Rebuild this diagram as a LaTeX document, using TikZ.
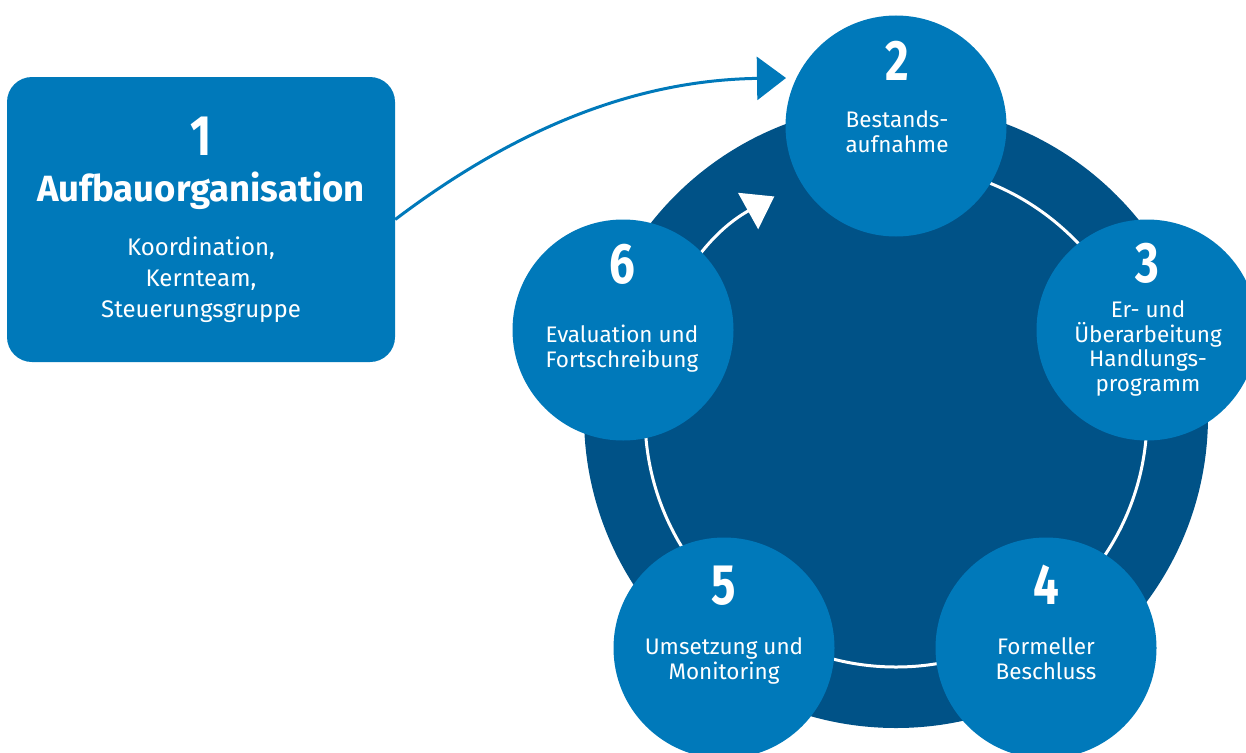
\documentclass[tikz,border=0pt]{standalone}
\usepackage{fontspec}
\setmainfont{Fira Sans}
\newfontfamily\digitfont{Fira Sans}[FakeStretch=0.8]
\usetikzlibrary{arrows.meta}
\definecolor{midblue}{RGB}{0,121,186}
\definecolor{darkblue}{RGB}{0,82,135}
\tikzset{
  stagecircle/.style={circle, fill=midblue, minimum size=221pt, inner sep=0pt},
  digit/.style={text=white, anchor=base, inner sep=0pt, font=\digitfont\bfseries\fontsize{57}{57}\selectfont},
  label/.style={text=white, anchor=base, inner sep=0pt, align=center, font=\fontsize{22.5}{24.5}\selectfont},
  boxlabel/.style={text=white, anchor=base, inner sep=0pt, align=center, font=\fontsize{24}{31}\selectfont},
  ringline/.style={white, line width=3pt},
}
\begin{document}
\begin{tikzpicture}[x=1pt,y=-1pt]
\useasboundingbox (0,0) rectangle (1246,752);
% big dark disc
\coordinate (ctr) at (896,416);
\fill[darkblue] (ctr) circle[radius=312];
% white ring with arrow
\draw[ringline, -{Triangle[length=30pt,width=41pt]}] (ctr) ++(-90:251) arc[start angle=-90, end angle=241, radius=251];
% stage circles
\node[stagecircle] (c2) at (896,126) {};
\node[stagecircle] (c3) at (1147,330) {};
\node[stagecircle] (c4) at (1046,648) {};
\node[stagecircle] (c5) at (724,648) {};
\node[stagecircle] (c6) at (623,330) {};
% stage texts (anchor = baseline of last line)
\node[digit] (d2) at (897,80) {2};
\node[label] (t2) at (897,152) {Bestands-\\aufnahme};
\node[digit] (d3) at (1147,282) {3};
\node[label] (t3) at (1148,391) {Er- und\\Überarbeitung\\Handlungs-\\programm};
\node[digit] (d4) at (1046,604) {4};
\node[label] (t4) at (1046,679) {Formeller\\Beschluss};
\node[digit] (d5) at (724,604) {5};
\node[label] (t5) at (724,679) {Umsetzung und\\Monitoring};
\node[digit] (d6) at (622,283) {6};
\node[label] (t6) at (622,367) {Evaluation und\\Fortschreibung};
% box 1
\node[fill=midblue, rounded corners=25pt, minimum width=388pt, minimum height=285pt, inner sep=0pt] (b1) at (201,219.5) {};
\node[digit] (d1) at (201,155) {1};
\node[text=white, anchor=base, inner sep=0pt, font=\bfseries\fontsize{36.5}{36.5}\selectfont] (h1) at (201,201) {Aufbauorganisation};
\node[boxlabel] (s1) at (201,317) {Koordination,\\Kernteam,\\Steuerungsgruppe};
% connector
\coordinate (tip2) at (786,78);
\draw[midblue, line width=3pt, -{Triangle[length=29pt,width=43pt]}] (b1.east) .. controls (520,125) and (640,80) .. (tip2);
\end{tikzpicture}
\end{document}
